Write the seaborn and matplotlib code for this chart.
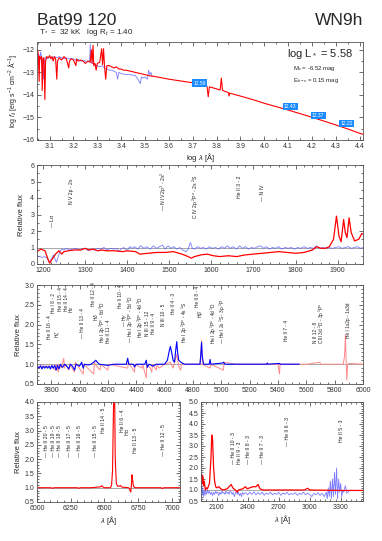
import numpy as np
import pandas as pd
import matplotlib
matplotlib.use("Agg")
import matplotlib.pyplot as plt
from matplotlib.ticker import MultipleLocator
import seaborn as sns

# ---- SED panel (log lambda vs log f_lambda) ----
sed_red_logl = [3.050, 3.053, 3.056, 3.058, 3.062, 3.066, 3.069, 3.072, 3.076, 3.080,
                3.083, 3.088, 3.095, 3.100, 3.105, 3.110, 3.115, 3.120, 3.125, 3.130,
                3.133, 3.140, 3.150, 3.160, 3.170, 3.180, 3.183, 3.190, 3.200, 3.210,
                3.213, 3.220, 3.230, 3.240, 3.250, 3.260, 3.270, 3.275, 3.278, 3.282,
                3.285, 3.290, 3.295, 3.300, 3.310, 3.318, 3.322, 3.326, 3.330, 3.335,
                3.340, 3.350, 3.360, 3.370, 3.380, 3.390, 3.400, 3.410, 3.420, 3.440,
                3.460, 3.480, 3.500, 3.520, 3.540, 3.560, 3.600, 3.650, 3.700, 3.750,
                3.760, 3.765, 3.770, 3.800, 3.815, 3.820, 3.825, 3.850, 3.852, 3.855,
                3.900, 3.950, 4.000, 4.050, 4.100, 4.150, 4.200, 4.250, 4.300, 4.350,
                4.400, 4.414]
sed_red_logf = [-12.00, -12.30, -13.40, -12.30, -12.40, -12.30, -13.80, -12.40, -12.35, -14.20,
                -12.50, -12.30, -12.35, -12.25, -12.40, -12.30, -12.50, -12.30, -12.40, -13.30,
                -12.50, -12.35, -12.45, -12.30, -12.40, -12.80, -12.50, -12.40, -12.45, -12.70,
                -12.40, -12.50, -12.45, -12.50, -12.60, -12.50, -12.55, -12.00, -12.60, -11.80,
                -12.70, -12.60, -12.90, -12.60, -12.55, -11.95, -12.65, -11.95, -12.70, -13.30,
                -12.70, -12.70, -12.75, -12.80, -12.75, -12.85, -12.85, -12.90, -12.90, -12.95,
                -13.00, -13.05, -13.10, -13.15, -13.18, -13.22, -13.30, -13.38, -13.46, -13.58,
                -13.62, -14.08, -13.64, -13.73, -13.78, -13.25, -13.80, -13.90, -14.05, -13.92,
                -14.05, -14.20, -14.37, -14.52, -14.67, -14.83, -14.99, -15.16, -15.33, -15.51,
                -15.70, -15.75]

sed_blue_logl = [3.050, 3.055, 3.058, 3.062, 3.066, 3.070, 3.075, 3.078, 3.085, 3.090,
                 3.100, 3.110, 3.120, 3.130, 3.140, 3.150, 3.160, 3.170, 3.180, 3.190,
                 3.200, 3.210, 3.220, 3.230, 3.240, 3.250, 3.260, 3.268, 3.270, 3.273,
                 3.280, 3.290, 3.300, 3.310, 3.320, 3.330, 3.340, 3.350, 3.360, 3.370,
                 3.380, 3.385, 3.390, 3.400, 3.420, 3.440, 3.460, 3.470, 3.480, 3.485,
                 3.490, 3.500, 3.510, 3.515, 3.520, 3.525, 3.530]
sed_blue_logf = [-12.40, -12.20, -12.60, -12.10, -12.30, -12.40, -13.30, -12.50, -12.30, -12.40,
                 -12.30, -12.35, -12.30, -12.35, -12.30, -12.35, -12.40, -12.35, -12.40, -12.38,
                 -12.40, -12.45, -12.42, -12.50, -12.45, -12.50, -12.50, -12.50, -11.75, -12.55,
                 -12.60, -12.65, -12.70, -12.75, -12.70, -12.80, -12.85, -12.90, -12.90, -12.95,
                 -13.00, -13.30, -13.00, -13.05, -13.10, -13.10, -13.15, -13.30, -13.50, -13.20,
                 -13.25, -13.20, -13.30, -12.90, -13.10, -13.00, -13.20]

phot_logl = [3.73, 4.108, 4.226, 4.345]
phot_logf = [-13.48, -14.52, -14.92, -15.26]
phot_mag = ["12.59", "12.43", "12.37", "12.22"]

# ---- UV panel ----
uv_red_wl = [1186, 1195, 1205, 1212, 1216, 1222, 1230, 1238, 1245, 1250, 1260, 1275, 1290, 1300,
             1310, 1320, 1330, 1340, 1350, 1370, 1390, 1400, 1420, 1430, 1450, 1470, 1490, 1510,
             1530, 1545, 1552, 1560, 1575, 1590, 1605, 1620, 1640, 1660, 1680, 1700, 1720, 1740,
             1760, 1780, 1800, 1820, 1840, 1850, 1860, 1870, 1880, 1890, 1897, 1903, 1908, 1914,
             1918, 1922, 1927, 1932, 1940, 1950, 1957, 1960]
uv_red_flux = [0.75, 0.90, 0.80, 0.30, 0.05, 0.30, 0.60, 0.80, 0.60, 0.75, 0.80, 0.85, 0.85, 0.95,
               0.85, 0.90, 0.80, 0.85, 0.80, 0.80, 0.75, 0.80, 0.75, 0.60, 0.65, 0.70, 0.70, 0.75,
               0.60, 0.45, 0.35, 0.45, 0.55, 0.60, 0.50, 0.45, 0.50, 0.45, 0.55, 0.60, 0.65, 0.70,
               0.75, 0.70, 0.65, 0.70, 0.85, 1.05, 0.95, 0.95, 1.05, 1.50, 2.90, 1.70, 1.35, 2.70,
               1.90, 1.60, 2.80, 1.90, 1.40, 1.50, 1.85, 1.80]

uv_blue_wl = [1186, 1192, 1198, 1204, 1210, 1215, 1220, 1225, 1228, 1232, 1236, 1240, 1245, 1250,
              1255, 1262, 1270, 1278, 1285, 1292, 1300, 1308, 1315, 1322, 1330, 1338, 1345, 1352,
              1360, 1368, 1375, 1380, 1385, 1392, 1400, 1406, 1412, 1418, 1425, 1432, 1440, 1447,
              1455, 1462, 1470, 1477, 1484, 1490, 1497, 1504, 1511, 1518, 1525, 1532, 1540, 1545,
              1550, 1555, 1560, 1567, 1574, 1581, 1588, 1595, 1602, 1610, 1617, 1624, 1631, 1638,
              1645, 1652, 1660, 1667, 1674, 1681, 1688, 1695, 1702, 1710, 1717, 1724, 1731, 1738,
              1745, 1752, 1760, 1767, 1775, 1782, 1790, 1797, 1805, 1812, 1820, 1828, 1835, 1842,
              1850, 1857, 1865, 1872, 1880, 1887, 1895, 1903, 1910, 1918, 1925, 1932, 1940, 1947,
              1955, 1960]
uv_blue_flux = [0.50, 0.45, 0.40, 0.45, 0.35, 0.10, 0.30, 0.55, 0.35, 0.10, 0.40, 0.75, 0.90, 0.85,
                0.95, 0.85, 0.90, 0.95, 0.85, 0.90, 0.95, 0.80, 0.90, 0.85, 0.95, 0.90, 1.00, 0.85,
                0.95, 0.90, 0.95, 0.75, 0.90, 1.00, 0.80, 1.05, 0.95, 1.05, 0.90, 1.10, 0.95, 1.05,
                0.90, 1.10, 0.95, 1.05, 1.15, 0.90, 1.10, 0.95, 1.05, 0.90, 1.00, 0.85, 0.75, 0.90,
                1.30, 0.95, 0.90, 1.05, 0.95, 1.00, 0.90, 1.05, 0.95, 1.00, 0.90, 1.05, 0.95, 1.10,
                0.95, 1.05, 0.90, 1.10, 0.95, 1.05, 0.90, 1.00, 0.95, 1.05, 1.10, 0.95, 1.05, 0.90,
                1.00, 0.95, 1.05, 0.90, 1.00, 0.95, 1.00, 0.90, 1.00, 0.95, 1.05, 0.95, 1.00, 0.95,
                1.10, 0.95, 1.00, 0.95, 1.00, 0.95, 1.00, 1.05, 0.95, 1.00, 1.05, 0.95, 1.00, 1.05,
                0.95, 1.00]

uv_lines = ["— L$\\alpha$", "N V 2p - 2s", "— N IV 2p$^3$ - 2s$^2$", "C IV 2p $^2$P$^o$ - 2s $^2$S",
            "He II 3 - 2", "— N IV"]
uv_line_wl = [1221, 1269, 1486, 1564, 1667, 1722]
uv_line_y = [2.2, 3.65, 3.2, 2.7, 4.0, 3.8]

# ---- optical panel ----
opt_red_wl = [3700, 3765, 3800, 3830, 3835, 3850, 3855, 3870, 3889, 3893, 3900, 3925, 3930, 3965,
              3970, 3980, 4026, 4030, 4100, 4105, 4120, 4145, 4150, 4200, 4205, 4340, 4345, 4388,
              4392, 4440, 4445, 4471, 4475, 4500, 4510, 4515, 4542, 4546, 4560, 4600, 4640, 4660,
              4686, 4700, 4713, 4720, 4850, 4861, 4866, 4921, 4925, 5015, 5020, 5100, 5400, 5411,
              5415, 5600, 5696, 5700, 5860, 5870, 5876, 5880, 5886, 5892, 5900, 6000]
opt_red_flux = [0.95, 0.95, 0.95, 0.85, 1.00, 0.80, 1.00, 0.90, 1.15, 0.90, 1.00, 0.85, 1.00, 0.80,
                1.05, 1.00, 0.75, 1.00, 0.75, 1.05, 0.95, 0.85, 1.00, 0.85, 1.00, 0.90, 1.05, 0.80,
                1.00, 0.90, 1.00, 0.65, 1.00, 0.90, 0.80, 1.00, 0.85, 1.00, 0.90, 1.00, 1.05, 0.90,
                1.25, 0.95, 0.85, 1.00, 1.00, 1.60, 1.00, 0.90, 1.00, 0.85, 1.05, 1.00, 1.00, 0.75,
                1.00, 1.00, 1.05, 1.00, 1.00, 1.20, 1.75, 1.20, 0.60, 1.00, 1.02, 1.00]

opt_blue_wl = [3700, 3715, 3725, 3735, 3745, 3755, 3765, 3775, 3785, 3795, 3805, 3815, 3825, 3835,
               3845, 3855, 3865, 3880, 3895, 3910, 3925, 3935, 3950, 3965, 3975, 4000, 4015, 4026,
               4035, 4060, 4080, 4100, 4115, 4125, 4140, 4200, 4240, 4330, 4340, 4347, 4380, 4388,
               4400, 4460, 4471, 4478, 4490, 4520, 4540, 4600, 4620, 4634, 4641, 4650, 4660, 4670,
               4680, 4686, 4692, 4700, 4715, 4740, 4850, 4857, 4861, 4866, 4875, 4915, 4921, 4927,
               5010, 5016, 5025, 5100, 5320, 5325, 5330, 5411, 5415, 5550]
opt_blue_flux = [0.95, 0.90, 0.96, 0.88, 0.95, 0.90, 0.95, 0.90, 0.95, 0.88, 0.97, 0.90, 0.97, 0.85,
                 0.97, 0.88, 1.00, 0.92, 1.00, 0.95, 0.88, 1.00, 0.95, 0.85, 1.00, 0.95, 1.05, 0.90,
                 1.00, 0.98, 1.00, 1.05, 1.10, 1.05, 1.00, 0.97, 1.00, 1.00, 1.15, 1.00, 1.00, 0.93,
                 1.00, 1.00, 1.10, 0.92, 1.00, 0.95, 1.00, 1.00, 1.10, 1.35, 1.45, 1.30, 1.10, 1.05,
                 1.40, 1.57, 1.30, 1.10, 1.05, 1.00, 1.00, 1.30, 1.55, 1.20, 1.00, 1.00, 1.12, 1.00,
                 1.03, 1.05, 1.00, 1.00, 1.00, 1.03, 1.00, 1.02, 1.00, 1.00]

opt_lines = ["He II 16 - 4", "He I 8 - 2", "H$\\zeta$", "He II 15 - 4", "He II 14 - 4", "H$\\epsilon$",
             "— He II 13 - 4", "He II 12 - 4", "H$\\delta$", "He I 2p $^3$P$^o$ - 6d $^3$D",
             "He II 11 - 4", "He II 10 - 4", "— H$\\gamma$", "— He I 2p $^3$P$^o$ - 5d $^3$D",
             "He I 2p $^3$P$^o$ - 4d $^3$D", "N III 15 - 12", "He II 9 - 4", "N III 10 - 5",
             "He II 4 - 3", "He I 2p $^1$P$^o$ - 4s $^1$S", "He II 8 - 4", "H$\\beta$",
             "He I 2p $^1$P$^o$ - 4d $^1$D", "— He I 2s $^1$S - 3p $^1$P", "He II 7 - 4",
             "N II 12 - 8", "C III 3d $^1$D - 3p $^1$P$^o$", "He I 1s2p - 1s3d"]
opt_line_wl = [3790, 3818, 3846, 3865, 3905, 3942, 4022, 4100, 4114, 4162, 4205, 4290, 4318, 4365,
               4435, 4480, 4525, 4592, 4662, 4745, 4834, 4856, 4945, 5011, 5458, 5662, 5712, 5898]
opt_line_y = [1.63, 2.30, 1.67, 2.35, 2.35, 2.30, 1.67, 2.46, 2.10, 1.54, 1.54, 2.42, 1.95, 1.54,
              1.67, 1.70, 1.76, 1.97, 2.27, 1.54, 2.44, 2.16, 1.50, 1.50, 1.59, 1.54, 1.50, 1.67]

# ---- red optical panel ----
ha_wl = [6000, 6100, 6118, 6125, 6300, 6310, 6320, 6400, 6470, 6480, 6490, 6500, 6545, 6553,
         6560, 6566, 6570, 6575, 6580, 6588, 6598, 6608, 6618, 6630, 6680, 6690, 6695, 6700,
         6704, 6708, 6715, 6725, 6920, 6930, 6940, 7060]
ha_flux = [1.00, 1.00, 0.98, 1.00, 1.00, 0.98, 1.00, 1.00, 1.03, 1.07, 1.02, 1.00, 1.00, 1.10,
           1.60, 3.50, 4.50, 4.50, 2.00, 1.15, 1.05, 1.05, 1.08, 1.02, 1.00, 0.90, 0.85, 1.10,
           1.45, 1.30, 1.05, 1.00, 1.00, 0.97, 1.00, 1.00]

ha_lines = ["— He II 20 - 5", "— He II 19 - 5", "— He II 18 - 5", "— He II 17 - 5", "— He II 16 - 5",
            "— He II 15 - 5", "He II 14 - 5", "He II 6 - 4", "H$\\alpha$", "He II 13 - 5",
            "— He II 12 - 5"]
ha_line_wl = [6070, 6119, 6169, 6243, 6318, 6430, 6491, 6633, 6668, 6727, 6938]
ha_line_y = [2.09, 2.09, 2.09, 2.09, 2.09, 2.09, 2.90, 2.95, 2.80, 2.20, 2.10]

# ---- near UV panel ----
nuv_red_wl = [1948, 1955, 1960, 1965, 1972, 1980, 1990, 2000, 2010, 2030, 2045, 2052, 2060, 2070,
              2080, 2090, 2100, 2120, 2140, 2160, 2200, 2240, 2255, 2280, 2300, 2310, 2350, 2380,
              2395, 2420, 2450, 2480, 2500, 2520, 2550, 2700, 2950, 2980, 3000, 3300, 3516]
nuv_red_flux = [1.50, 1.70, 1.30, 1.60, 1.20, 1.40, 1.00, 1.10, 1.05, 1.30, 2.50, 3.50, 3.30, 2.00,
                1.40, 1.15, 1.10, 1.15, 1.05, 1.00, 1.05, 1.25, 1.10, 1.00, 0.90, 1.00, 1.05, 1.15,
                1.05, 1.10, 1.15, 1.15, 1.25, 1.05, 1.00, 1.00, 1.00, 1.08, 1.00, 0.98, 0.98]

nuv_blue_wl = [1948, 1955, 1962, 1970, 1978, 1986, 1994, 2002, 2010, 2020, 2030, 2040, 2050, 2060,
               2070, 2080, 2090, 2100, 2110, 2120, 2130, 2140, 2150, 2160, 2170, 2180, 2190, 2200,
               2210, 2220, 2230, 2240, 2250, 2260, 2270, 2280, 2290, 2300, 2310, 2320, 2330, 2340,
               2350, 2360, 2380, 2400, 2420, 2440, 2460, 2480, 2500, 2520, 2540, 2560, 2580, 2600,
               2620, 2640, 2660, 2680, 2700, 2720, 2740, 2760, 2780, 2800, 2820, 2840, 2860, 2880,
               2900, 2920, 2940, 2960, 2980, 3000, 3020, 3040, 3060, 3080, 3100, 3120, 3140, 3160,
               3170, 3180, 3190, 3200, 3210, 3220, 3230, 3240, 3250, 3260, 3270, 3280, 3290, 3300,
               3310, 3320, 3330, 3345, 3360, 3380]
nuv_blue_flux = [1.20, 0.80, 1.10, 0.70, 1.00, 0.75, 0.95, 0.80, 1.00, 0.85, 0.95, 0.80, 0.90, 0.75,
                 0.90, 0.80, 0.95, 0.85, 0.90, 0.75, 0.90, 0.80, 0.95, 0.85, 0.90, 0.80, 0.95, 0.85,
                 0.90, 0.80, 0.95, 0.90, 0.80, 0.90, 0.70, 0.85, 0.95, 0.80, 0.90, 0.75, 0.85, 0.70,
                 0.90, 0.80, 0.88, 0.78, 0.90, 0.80, 0.92, 0.78, 0.88, 0.80, 0.90, 0.76, 0.86, 0.80,
                 0.90, 0.78, 0.85, 0.80, 0.90, 0.76, 0.86, 0.80, 0.90, 0.78, 0.84, 0.80, 0.88, 0.76,
                 0.85, 0.80, 0.90, 0.78, 0.86, 0.80, 0.70, 0.85, 0.78, 0.88, 0.75, 0.85, 0.70, 0.90,
                 0.60, 1.10, 0.70, 1.40, 0.60, 1.50, 0.70, 1.80, 0.80, 2.00, 0.60, 1.50, 0.90, 1.30,
                 0.70, 1.00, 0.90, 1.20, 0.85, 0.95]

nuv_lines = ["— He II 10 - 3", "He II 9 - 3", "— He II 8 - 3", "— He II 7 - 3", "— He II 6 - 3",
             "He II 5 - 3"]
nuv_line_wl = [2261, 2319, 2406, 2545, 2787, 3310]
nuv_line_y = [2.2, 2.2, 2.2, 2.2, 3.0, 3.2]

# ---------------------------------------------------------------
sns.set_theme(style="ticks")
plt.rcParams['font.family'] = ['Liberation Sans', 'DejaVu Sans']
plt.rcParams['mathtext.fontset'] = 'custom'
plt.rcParams['mathtext.rm'] = 'Liberation Sans'
plt.rcParams['mathtext.it'] = 'Liberation Sans:italic'
plt.rcParams['axes.linewidth'] = 0.6

RED = "#ff0000"
BLUE = "#0000ff"
LBLUE = "#5a5aff"
PINK = "#ff8a8a"

fig = plt.figure(figsize=(3.82, 5.41), dpi=100)
W, H = 382.0, 541.0


def box(l, t, r, b):
    return fig.add_axes([l / W, 1 - b / H, (r - l) / W, (b - t) / H])


def style(ax, xmaj, xmin, ymaj, ymin):
    ax.xaxis.set_major_locator(MultipleLocator(xmaj))
    ax.xaxis.set_minor_locator(MultipleLocator(xmin))
    ax.yaxis.set_major_locator(MultipleLocator(ymaj))
    ax.yaxis.set_minor_locator(MultipleLocator(ymin))
    ax.tick_params(which="both", direction="in", top=True, right=True, width=0.5,
                   labelsize=5, pad=2, colors="#333333")
    ax.tick_params(which="major", length=3)
    ax.tick_params(which="minor", length=1.5)
    for s in ax.spines.values():
        s.set_color("#555555")


def line_labels(ax, texts, xs, ys, fs=3.7):
    for t, x, y in zip(texts, xs, ys):
        ax.text(x, y, t, rotation=90, ha="center", va="bottom", fontsize=fs, color="#222222")


def draw(ax, x, y, color, lw, alpha=1.0):
    sns.lineplot(x=x, y=y, ax=ax, color=color, lw=lw, alpha=alpha,
                 estimator=None, sort=False, legend=False)


# titles
fig.text(37 / W, 1 - 25 / H, "Bat99 120", fontsize=12.5, ha="left", va="baseline")
fig.text(363 / W, 1 - 25 / H, "WN9h", fontsize=12.5, ha="right", va="baseline")
fig.text(39 / W, 1 - 34 / H, "T$_*$ =  32 kK   log R$_t$ = 1.40", fontsize=5.8,
         ha="left", va="baseline")

# panel 1 : SED
ax1 = box(37, 42, 363, 140)
draw(ax1, sed_blue_logl, sed_blue_logf, LBLUE, 0.6, 0.8)
draw(ax1, sed_red_logl, sed_red_logf, RED, 0.8)
for x, y, m in zip(phot_logl, phot_logf, phot_mag):
    ax1.text(x, y, m, fontsize=3.6, color="white", ha="center", va="center",
             bbox=dict(boxstyle="square,pad=0.25", fc="#1a8cff", ec="none"))
ax1.set_xlim(3.047, 4.414)
ax1.set_ylim(-16, -11.65)
style(ax1, 0.1, 0.05, 1, 0.5)
ax1.set_xlabel("log $\\lambda$ [Å]", fontsize=5.5, labelpad=1)
ax1.set_ylabel("log $f_\\lambda$ [erg s$^{-1}$ cm$^{-2}$ Å$^{-1}$]", fontsize=5, labelpad=2)
ax1.text(0.969, 0.847, "log L$_*$ = 5.58", transform=ax1.transAxes, fontsize=8, ha="right")
ax1.text(0.785, 0.714, "M$_v$ = -6.52 mag", transform=ax1.transAxes, fontsize=4.3, ha="left")
ax1.text(0.785, 0.59, "E$_{b-v}$ = 0.15 mag", transform=ax1.transAxes, fontsize=4.3, ha="left")

# panel 2 : UV
ax2 = box(37, 165, 363, 264)
ax2.axhline(1, color="#999999", lw=0.6)
draw(ax2, uv_blue_wl, uv_blue_flux, LBLUE, 0.6, 0.8)
draw(ax2, uv_red_wl, uv_red_flux, RED, 0.9)
line_labels(ax2, uv_lines, uv_line_wl, uv_line_y)
ax2.set_xlim(1186, 1960)
ax2.set_ylim(0, 6)
style(ax2, 100, 20, 1, 0.5)
ax2.set_ylabel("Relative flux", fontsize=5.5, labelpad=4)

# panel 3 : optical
ax3 = box(37, 285, 363, 384)
ax3.axhline(1, color="#999999", lw=0.6)
draw(ax3, opt_red_wl, opt_red_flux, PINK, 0.7)
draw(ax3, opt_blue_wl, opt_blue_flux, BLUE, 0.8)
line_labels(ax3, opt_lines, opt_line_wl, opt_line_y, fs=3.4)
ax3.set_xlim(3700, 6000)
ax3.set_ylim(0.5, 3.0)
style(ax3, 200, 50, 0.5, 0.1)
ax3.yaxis.set_major_formatter(matplotlib.ticker.FormatStrFormatter("%.1f"))
ax3.set_ylabel("Relative flux", fontsize=5.5, labelpad=2)

# panel 4 : H alpha region
ax4 = box(37, 402, 180, 502)
ax4.axhline(1, color="#999999", lw=0.6)
draw(ax4, ha_wl, ha_flux, RED, 0.8)
line_labels(ax4, ha_lines, ha_line_wl, ha_line_y)
ax4.set_xlim(6000, 7060)
ax4.set_ylim(0.5, 4.0)
style(ax4, 250, 50, 0.5, 0.1)
ax4.yaxis.set_major_formatter(matplotlib.ticker.FormatStrFormatter("%.1f"))
ax4.set_ylabel("Relative flux", fontsize=5.5, labelpad=2)
ax4.set_xlabel("$\\lambda$ [Å]", fontsize=5.5, labelpad=1.5)

# panel 5 : near UV
ax5 = box(201, 402, 363, 501)
ax5.axhline(1, color="#999999", lw=0.6)
draw(ax5, nuv_blue_wl, nuv_blue_flux, LBLUE, 0.6, 0.8)
draw(ax5, nuv_red_wl, nuv_red_flux, RED, 0.9)
line_labels(ax5, nuv_lines, nuv_line_wl, nuv_line_y)
ax5.set_xlim(1948, 3516)
ax5.set_ylim(0.5, 5.0)
style(ax5, 300, 50, 0.5, 0.1)
ax5.yaxis.set_major_formatter(matplotlib.ticker.FormatStrFormatter("%.1f"))
ax5.set_xlabel("$\\lambda$ [Å]", fontsize=5.5, labelpad=1.5)

fig.savefig("out.png", dpi=100)
